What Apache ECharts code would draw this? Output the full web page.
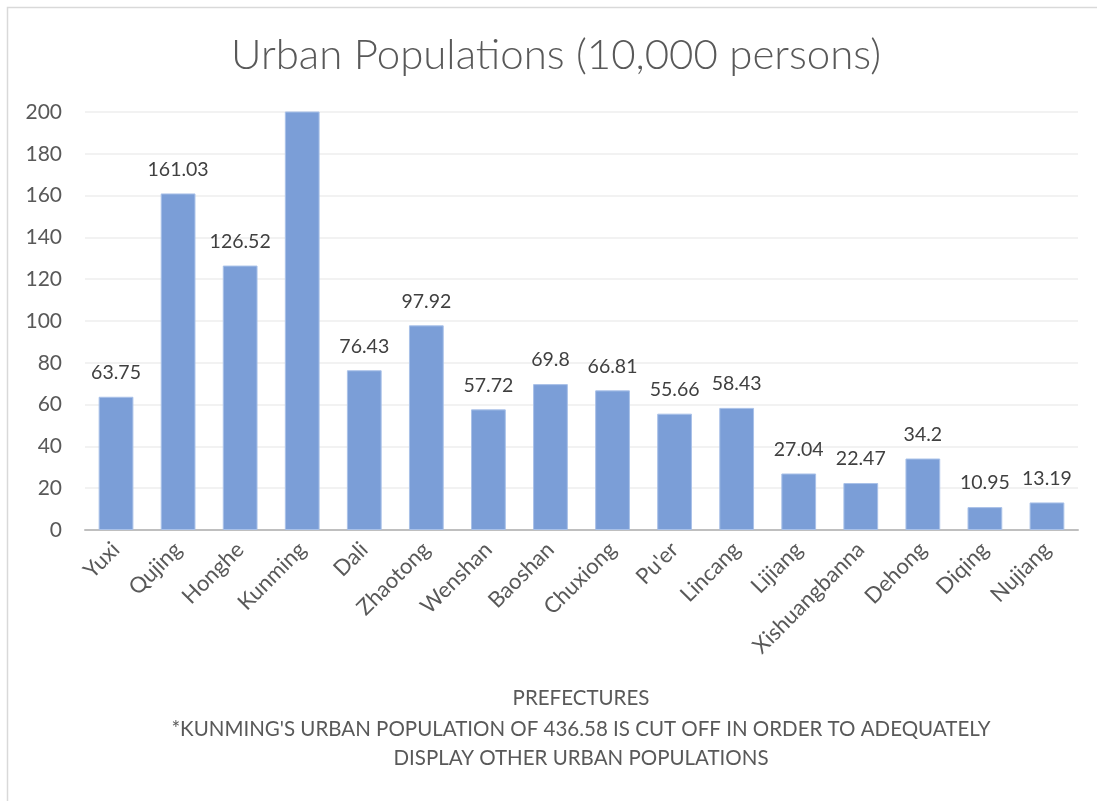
<!DOCTYPE html>
<html>
<head>
<meta charset="utf-8">
<script src="https://cdn.jsdelivr.net/npm/echarts@6/dist/echarts.min.js"></script>
<style>
  html, body { margin: 0; padding: 0; background: #fff; }
  #chart { width: 1097px; height: 801px; }
</style>
</head>
<body>
<div id="chart"></div>
<script>
// Prefectures of Yunnan and their urban populations (units of 10,000 persons)
const prefectures = ['Yuxi', 'Qujing', 'Honghe', 'Kunming', 'Dali', 'Zhaotong', 'Wenshan', 'Baoshan',
  'Chuxiong', "Pu'er", 'Lincang', 'Lijiang', 'Xishuangbanna', 'Dehong', 'Diqing', 'Nujiang'];
const urbanPop = [63.75, 161.03, 126.52, 436.58, 76.43, 97.92, 57.72, 69.8,
  66.81, 55.66, 58.43, 27.04, 22.47, 34.2, 10.95, 13.19];
// Axis is capped; values beyond it are clipped and left unlabeled
const yMax = 200;
const yStep = 20;

const FONT = 'Lato, "Open Sans", sans-serif';

const chart = echarts.init(document.getElementById('chart'), null, { renderer: 'canvas' });

chart.setOption({
  backgroundColor: '#ffffff',
  animation: false,
  title: [
    {
      text: 'Urban Populations (10,000 persons)',
      left: 556, top: 30, textAlign: 'center', padding: 0,
      textStyle: { fontFamily: FONT, fontSize: 42, fontWeight: 300, color: '#595959', lineHeight: 50 }
    },
    {
      text: 'PREFECTURES',
      left: 581, top: 686, textAlign: 'center', padding: 0,
      textStyle: { fontFamily: FONT, fontSize: 20.5, fontWeight: 'normal', color: '#595959', lineHeight: 24 }
    },
    {
      text: "*KUNMING'S URBAN POPULATION OF 436.58 IS CUT OFF IN ORDER TO ADEQUATELY\nDISPLAY OTHER URBAN POPULATIONS",
      left: 581, top: 714.5, textAlign: 'center', padding: 0,
      textStyle: { fontFamily: FONT, fontSize: 20.5, fontWeight: 'normal', color: '#595959', lineHeight: 29 }
    }
  ],
  graphic: [
    {
      type: 'rect', silent: true,
      shape: { x: 7.5, y: 7.5, width: 1200, height: 1000 },
      style: { fill: 'none', stroke: '#d9d9d9', lineWidth: 1.5 }
    }
  ],
  grid: { left: 85, right: 19, top: 112, bottom: 271, containLabel: false },
  xAxis: {
    type: 'category',
    data: prefectures,
    axisLine: { show: true, lineStyle: { color: '#bfbfbf', width: 2 } },
    axisTick: { show: false },
    axisLabel: {
      rotate: 45, interval: 0, margin: 16,
      fontFamily: FONT, fontSize: 22, color: '#595959'
    }
  },
  yAxis: {
    type: 'value',
    min: 0, max: yMax, interval: yStep,
    axisLine: { show: false },
    axisTick: { show: false },
    splitLine: { lineStyle: { color: '#eeeeee', width: 1.5 } },
    axisLabel: { margin: 23, fontFamily: FONT, fontSize: 21, color: '#595959' }
  },
  series: [
    {
      type: 'bar',
      data: urbanPop.map(v => ({
        value: v,
        label: { show: v <= yMax }
      })),
      barWidth: '56%',
      clip: true,
      itemStyle: { color: '#7b9ed7', borderColor: '#a9c1e8', borderWidth: 1 },
      label: {
        show: true, position: 'top', distance: 14,
        fontFamily: FONT, fontSize: 19.5, color: '#404040'
      }
    }
  ]
});
</script>
</body>
</html>
